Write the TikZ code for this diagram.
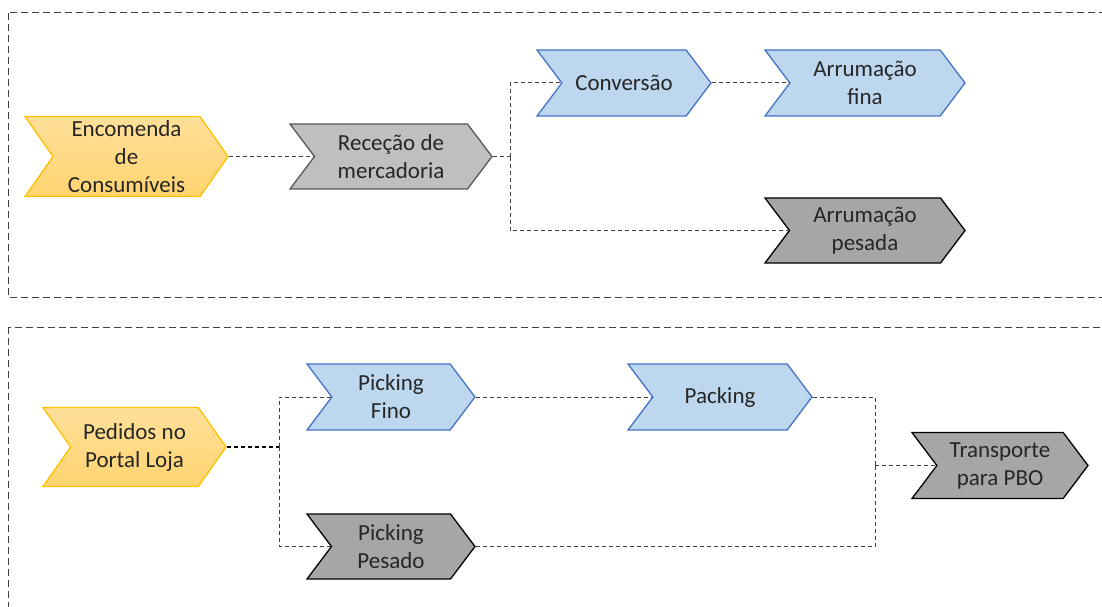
\documentclass[tikz,border=0pt]{standalone}
\usepackage{fontspec}
\setmainfont{Carlito}
\usetikzlibrary{shapes.symbols}
\definecolor{amareloborda}{HTML}{FFC000}
\definecolor{amarelotopo}{HTML}{FFE09A}
\definecolor{amarelobase}{HTML}{FFD470}
\definecolor{cinzaclaro}{HTML}{BFBFBF}
\definecolor{cinzaborda}{HTML}{595959}
\definecolor{cinzaescuro}{HTML}{A6A6A6}
\definecolor{azulclaro}{HTML}{BDD7EE}
\definecolor{azulborda}{HTML}{4472C4}
\definecolor{linha}{HTML}{404040}
\definecolor{texto}{HTML}{262626}

\begin{document}
\begin{tikzpicture}[x=1pt,y=-1pt,
    etapa/.style={shape=signal, signal from=west, signal to=east,
        signal pointer angle=106, inner sep=0pt, align=center,
        text=texto, font=\fontsize{23}{28}\selectfont, line width=1.3pt},
    inicio/.style={etapa, draw=amareloborda, top color=amarelotopo,
        bottom color=amarelobase, signal pointer angle=110},
    recebe/.style={etapa, draw=cinzaborda, fill=cinzaclaro},
    azul/.style={etapa, draw=azulborda, fill=azulclaro},
    pesado/.style={etapa, draw=black, fill=cinzaescuro},
    ligacao/.style={draw=linha, dash pattern=on 4pt off 3pt, line width=1pt},
    ligacaoforte/.style={draw=black, dash pattern=on 4pt off 3pt, line width=2pt}]

    \useasboundingbox (0,0) rectangle (1102,607);

    % areas
    \draw[linha, dash pattern=on 7pt off 4pt, line width=1pt] (8,13) rectangle (1120,297);
    \draw[linha, dash pattern=on 7pt off 4pt, line width=1pt] (8,327) rectangle (1120,630);

    % rececao de consumiveis
    \node[inicio, minimum width=203, minimum height=80] (enc) at (126.5,156.5) {Encomenda\\de\\Consumíveis};
    \node[recebe, minimum width=202, minimum height=65] (rec) at (391,156.5) {Receção de\\mercadoria};
    \node[azul, minimum width=174, minimum height=66] (conv) at (624,83) {Conversão};
    \node[azul, minimum width=200, minimum height=66] (afina) at (865,83) {Arrumação\\fina};
    \node[pesado, minimum width=200, minimum height=65] (apes) at (865,230.5) {Arrumação\\pesada};

    \coordinate (jrec) at (510,156.5);
    \draw[ligacao] (enc.east) -- (rec.west);
    \draw[ligacao] (rec.east) -- (jrec);
    \draw[ligacao] (jrec) |- (conv.west);
    \draw[ligacao] (jrec) |- (apes.west);
    \draw[ligacao] (conv.east) -- (afina.west);

    % pedidos
    \node[inicio, minimum width=183, minimum height=79] (ped) at (134.5,447) {Pedidos no\\Portal Loja};
    \node[azul, minimum width=168, minimum height=66] (pfino) at (391,397) {Picking\\Fino};
    \node[pesado, minimum width=168, minimum height=65] (ppes) at (391,546.5) {Picking\\Pesado};
    \node[azul, minimum width=184, minimum height=66] (pack) at (720,397) {Packing};
    \node[pesado, minimum width=176, minimum height=66] (transp) at (1000,465.5) {Transporte\\para PBO};

    \coordinate (jped) at (279,447);
    \coordinate (jtra) at (875,465.5);
    \draw[ligacaoforte] (ped.east) -- (jped);
    \draw[ligacao] (jped) |- (pfino.west);
    \draw[ligacao] (jped) |- (ppes.west);
    \draw[ligacao] (pfino.east) -- (pack.west);
    \draw[ligacao] (pack.east) -| (jtra);
    \draw[ligacao] (ppes.east) -| (jtra);
    \draw[ligacao] (jtra) -- (transp.west);

\end{tikzpicture}
\end{document}
